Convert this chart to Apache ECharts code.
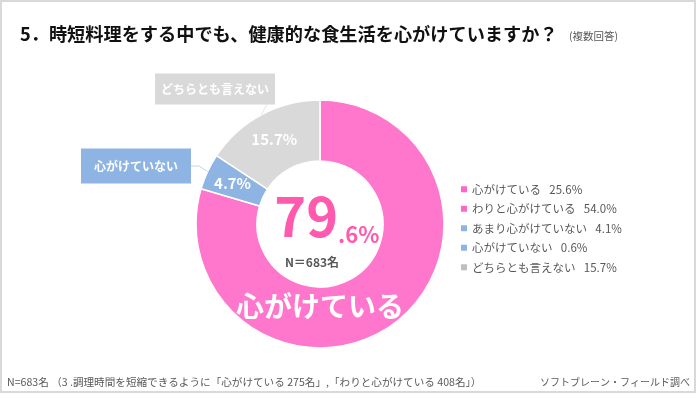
<!DOCTYPE html>
<html lang="ja">
<head>
<meta charset="UTF-8">
<title>時短料理と食生活</title>
<style>
  * { margin: 0; padding: 0; }
  html, body { width: 100%; height: 100%; background: #fff; }
  #chart { width: 700px; height: 398px; }
</style>
<script src="https://cdn.jsdelivr.net/npm/echarts@6/dist/echarts.min.js"></script>
</head>
<body>
<div id="chart"></div>
<script>
  // ドーナツ（まとめ）
  var groupNames = ['心がけている', '心がけていない', 'どちらとも言えない'];
  var groupValues = [79.6, 4.7, 15.7];
  var groupColors = ['#FF77CC', '#8DB4E2', '#D9D9D9'];

  // 凡例（内訳）
  var detailNames = ['心がけている', 'わりと心がけている', 'あまり心がけていない', '心がけていない', 'どちらとも言えない'];
  var detailValues = [25.6, 54.0, 4.1, 0.6, 15.7];
  var detailColors = ['#FF66CC', '#FF66CC', '#8DB4E2', '#8DB4E2', '#BFBFBF'];

  var titleText = '5．時短料理をする中でも、健康的な食生活を心がけていますか？';
  var subText = '(複数回答)';
  var sampleText = 'N＝683名';
  var footLeft = 'N=683名 （3 .調理時間を短縮できるように「心がけている 275名」,「わりと心がけている 408名」）';
  var footRight = 'ソフトブレーン・フィールド調べ';

  var FONT = '"Noto Sans CJK JP", "Noto Sans", sans-serif';
  var CX = 320, CY = 224;

  var chart = echarts.init(document.getElementById('chart'));

  var topPct = groupValues[0].toFixed(1).split('.');

  // 外側の吹き出しラベル位置
  var boxPos = { 1: [136, 166], 2: [215, 89] };

  var option = {
    backgroundColor: '#fff',
    animation: false,
    textStyle: { fontFamily: FONT },
    legend: {
      orient: 'vertical',
      left: 456,
      top: 178,
      itemWidth: 6,
      itemHeight: 6,
      itemGap: 7,
      icon: 'rect',
      selectedMode: false,
      data: detailNames,
      textStyle: { fontSize: 11.5, color: '#595959', fontFamily: FONT, lineHeight: 12.5 },
      formatter: function (name) {
        var i = detailNames.indexOf(name);
        return name + '\u2002 ' + detailValues[i].toFixed(1) + '%';
      }
    },
    series: [
      {
        // 凡例用（描画しない）
        type: 'pie',
        center: [-200, -200],
        radius: [0, 1],
        silent: true,
        label: { show: false },
        labelLine: { show: false },
        data: detailNames.map(function (n, i) {
          return { name: n, value: detailValues[i], itemStyle: { color: detailColors[i] } };
        })
      },
      {
        type: 'pie',
        center: [CX, CY],
        radius: [63, 124],
        startAngle: 90,
        clockwise: true,
        silent: true,
        itemStyle: { borderColor: '#fff', borderWidth: 1.5 },
        label: {
          position: 'inside',
          color: '#fff',
          fontSize: 15,
          fontWeight: 'bold',
          fontFamily: FONT,
          formatter: function (p) { return p.value.toFixed(1) + '%'; }
        },
        labelLine: { show: false },
        data: groupNames.map(function (n, i) {
          return {
            name: n,
            value: groupValues[i],
            itemStyle: { color: groupColors[i] },
            label: { show: i > 0 }
          };
        })
      },
      {
        // 吹き出しラベル
        type: 'pie',
        center: [CX, CY],
        radius: [63, 124],
        startAngle: 90,
        clockwise: true,
        silent: true,
        z: 3,
        itemStyle: { color: 'rgba(0,0,0,0)' },
        label: {
          position: 'outside',
          color: '#fff',
          fontSize: 12,
          fontWeight: 'bold',
          fontFamily: FONT,
          formatter: '{b}'
        },
        labelLine: { show: true, length: 8, length2: 8, lineStyle: { width: 1 } },
        labelLayout: function (p) {
          var pos = boxPos[p.dataIndex];
          if (!pos) return {};
          return { x: pos[0], y: pos[1], align: 'center', verticalAlign: 'middle' };
        },
        data: groupNames.map(function (n, i) {
          var item = { name: n, value: groupValues[i] };
          if (i === 0) {
            item.label = { show: false };
            item.labelLine = { show: false };
          } else if (i === 1) {
            item.label = { backgroundColor: '#8DB4E2', padding: [12, 13, 11, 13] };
            item.labelLine = { lineStyle: { color: '#BDD4EE' } };
          } else {
            item.label = { backgroundColor: '#D9D9D9', padding: [10, 6, 9, 6] };
            item.labelLine = { lineStyle: { color: '#E6E6E6' } };
          }
          return item;
        })
      }
    ],
    graphic: [
      {
        type: 'rect', silent: true, z: 100,
        shape: { x: 1, y: 1, width: 694, height: 391 },
        style: { fill: 'none', stroke: '#D9D9D9', lineWidth: 2 }
      },
      {
        type: 'text', left: 20, top: 25,
        style: { text: titleText, font: 'bold 18.2px ' + FONT, fill: '#111' }
      },
      {
        type: 'text', left: 569, top: 31,
        style: { text: subText, font: '10.5px ' + FONT, fill: '#595959' }
      },
      {
        type: 'text', z: 10, x: 338, y: 243,
        style: { text: topPct[0], font: 'bold 54px ' + FONT, fill: '#FF5AAE', textAlign: 'right', textVerticalAlign: 'bottom' }
      },
      {
        type: 'text', z: 10, x: 338, y: 246,
        style: { text: '.' + topPct[1] + '%', font: 'bold 22px ' + FONT, fill: '#FF5AAE', textAlign: 'left', textVerticalAlign: 'bottom' }
      },
      {
        type: 'text', z: 10, x: 312, y: 262,
        style: { text: sampleText, font: 'bold 12px ' + FONT, fill: '#595959', textAlign: 'center', textVerticalAlign: 'middle' }
      },
      {
        type: 'text', z: 10, x: CX, y: 306,
        style: { text: groupNames[0], font: 'bold 28px ' + FONT, fill: '#fff', textAlign: 'center', textVerticalAlign: 'middle' }
      },
      {
        type: 'text', x: 7, y: 382,
        style: { text: footLeft, font: '10.6px ' + FONT, fill: '#595959', textVerticalAlign: 'middle' }
      },
      {
        type: 'text', x: 690, y: 382,
        style: { text: footRight, font: '10px ' + FONT, fill: '#595959', textAlign: 'right', textVerticalAlign: 'middle' }
      }
    ]
  };

  chart.setOption(option);
</script>
</body>
</html>
